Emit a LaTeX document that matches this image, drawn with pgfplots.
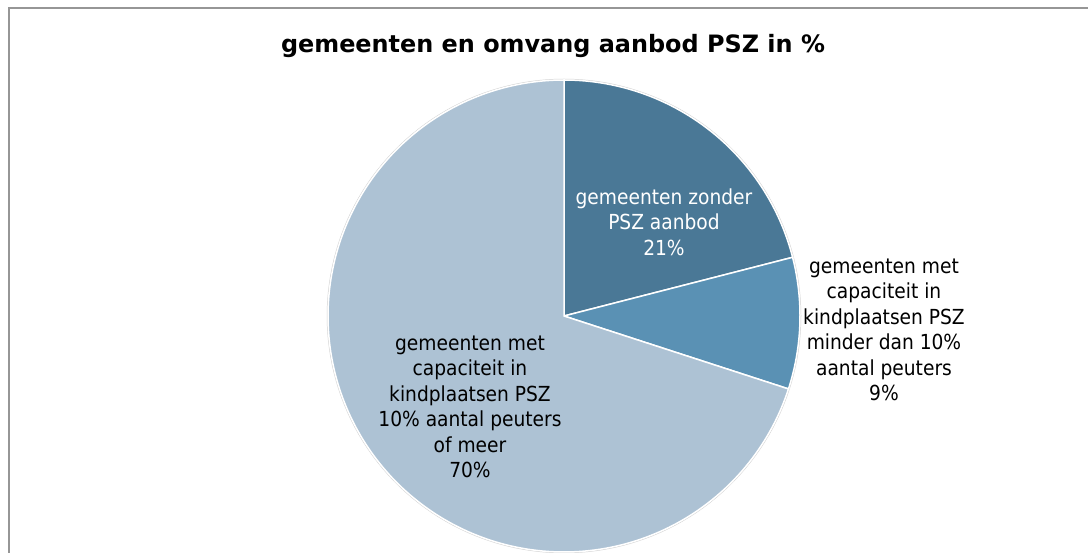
\documentclass[border=0pt]{standalone}
\usepackage{pgfplots}
\pgfplotsset{compat=1.18}
\usepackage{fontspec}
\setmainfont{DejaVu Sans Condensed}
\newfontfamily\titlefont{DejaVu Sans}
\definecolor{sA}{RGB}{74,120,150}
\definecolor{sB}{RGB}{90,145,180}
\definecolor{sC}{RGB}{173,194,212}
\definecolor{frame}{RGB}{150,150,150}
% shares in percent
\def\shareA{21}\def\shareB{9}\def\shareC{70}
\begin{document}
\begin{tikzpicture}
\useasboundingbox (0,0) rectangle (1088bp,553bp);
\pgfmathsetmacro\aA{90}
\pgfmathsetmacro\aB{90-3.6*\shareA}
\pgfmathsetmacro\aC{\aB-3.6*\shareB}
\pgfmathsetmacro\aD{\aC-3.6*\shareC}
\begin{axis}[at={(0,0)},anchor=south west, scale only axis, width=1088bp, height=553bp,
  xmin=0,xmax=1088,ymin=0,ymax=553, hide axis, clip=true]
\addplot[draw=frame, line width=1.5bp] coordinates {(9,-20) (9,545) (1120,545)};
\addplot[domain=0:360, samples=181, draw=gray!35, line width=1.5bp] ({564+236.5*cos(x)},{237+236.5*sin(x)});
\addplot[domain=\aB:\aA, samples=80, fill=sA, draw=white, line width=1.5bp] ({564+236*cos(x)},{237+236*sin(x)}) -- (axis cs:564,237) -- cycle;
\addplot[domain=\aC:\aB, samples=40, fill=sB, draw=white, line width=1.5bp] ({564+236*cos(x)},{237+236*sin(x)}) -- (axis cs:564,237) -- cycle;
\addplot[domain=\aD:\aC, samples=200, fill=sC, draw=white, line width=1.5bp] ({564+236*cos(x)},{237+236*sin(x)}) -- (axis cs:564,237) -- cycle;
\node[font=\titlefont\fontsize{24}{28}\selectfont\bfseries] at (axis cs:553,507) {gemeenten en omvang aanbod PSZ in \%};
\node[align=center, text=white, font=\fontsize{20.8}{25.5}\selectfont] at (axis cs:664,331)
  {gemeenten zonder\\PSZ aanbod\\21\%};
\node[align=center, font=\fontsize{20.8}{25.6}\selectfont] at (axis cs:884,223)
  {gemeenten met\\capaciteit in\\kindplaatsen PSZ\\minder dan 10\%\\aantal peuters\\9\%};
\node[align=center, font=\fontsize{20.8}{25.6}\selectfont] at (axis cs:470,146)
  {gemeenten met\\capaciteit in\\kindplaatsen PSZ\\10\% aantal peuters\\of meer\\70\%};
\end{axis}
\end{tikzpicture}
\end{document}
